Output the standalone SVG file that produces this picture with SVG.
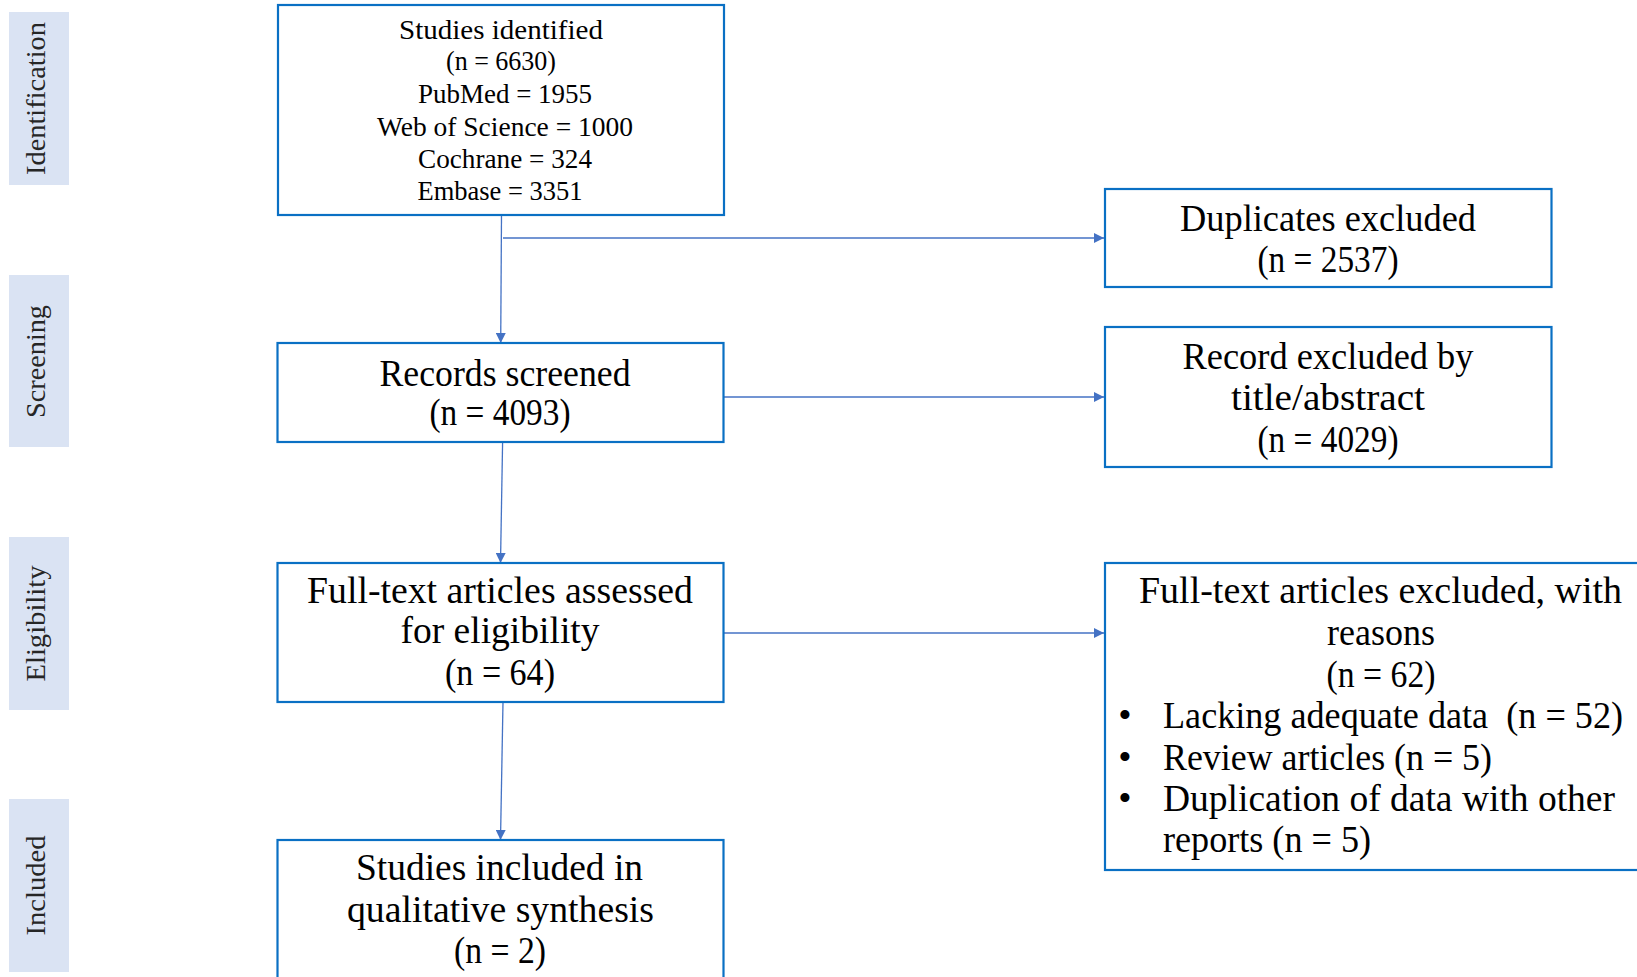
<svg xmlns="http://www.w3.org/2000/svg" width="1637" height="977" viewBox="0 0 1637 977">
<defs>
<style>
.phase{fill:#dae3f3;stroke:none}
.ptxt{font-family:"Liberation Serif","Times New Roman",serif;font-size:27px;fill:#262626;text-anchor:middle}
.box{fill:#ffffff;stroke:#0a70c4;stroke-width:2.2}
.t{font-family:"Liberation Serif","Times New Roman",serif;fill:#000000;text-anchor:middle}
.s{font-size:28px}
.l{font-size:38px}
.st{text-anchor:start}
.conn{fill:none;stroke:#4472c4;stroke-width:1.3}
</style>
<marker id="arr" viewBox="0 0 10 10" refX="10" refY="5" markerWidth="10" markerHeight="10" markerUnits="userSpaceOnUse" orient="auto">
<path d="M0,0 L10,5 L0,10 z" fill="#4472c4"/>
</marker>
</defs>
<rect width="1637" height="977" fill="#ffffff"/>

<g id="phases">
<g id="phase-identification">
<rect class="phase" x="9" y="12" width="60" height="173"/>
<text class="ptxt" transform="translate(45,98.5) rotate(-90)" textLength="153" lengthAdjust="spacingAndGlyphs">Identification</text>
</g>
<g id="phase-screening">
<rect class="phase" x="9" y="275" width="60" height="172"/>
<text class="ptxt" transform="translate(45,361.5) rotate(-90)" textLength="113" lengthAdjust="spacingAndGlyphs">Screening</text>
</g>
<g id="phase-eligibility">
<rect class="phase" x="9" y="537" width="60" height="173"/>
<text class="ptxt" transform="translate(45,623.5) rotate(-90)" textLength="116" lengthAdjust="spacingAndGlyphs">Eligibility</text>
</g>
<g id="phase-included">
<rect class="phase" x="9" y="799" width="60" height="173"/>
<text class="ptxt" transform="translate(45,885.5) rotate(-90)" textLength="100" lengthAdjust="spacingAndGlyphs">Included</text>
</g>
</g>

<g id="connectors">
<line class="conn" x1="501.5" y1="215" x2="500.7" y2="343" marker-end="url(#arr)"/>
<line class="conn" x1="503" y1="238" x2="1104" y2="238" marker-end="url(#arr)"/>
<line class="conn" x1="723.5" y1="397" x2="1104" y2="397" marker-end="url(#arr)"/>
<line class="conn" x1="502.6" y1="442" x2="500.5" y2="563" marker-end="url(#arr)"/>
<line class="conn" x1="723.5" y1="633" x2="1104" y2="633" marker-end="url(#arr)"/>
<line class="conn" x1="503" y1="702" x2="500.5" y2="840" marker-end="url(#arr)"/>
</g>

<g id="node-identified">
<rect class="box" x="278" y="5" width="446" height="210"/>
<text class="t s" x="501" y="39" textLength="204" lengthAdjust="spacingAndGlyphs">Studies identified</text>
<text class="t s" x="501" y="70" textLength="110" lengthAdjust="spacingAndGlyphs">(n = 6630)</text>
<text class="t s" x="505" y="103" textLength="174" lengthAdjust="spacingAndGlyphs">PubMed = 1955</text>
<text class="t s" x="505" y="136" textLength="256" lengthAdjust="spacingAndGlyphs">Web of Science = 1000</text>
<text class="t s" x="505" y="168" textLength="174" lengthAdjust="spacingAndGlyphs">Cochrane = 324</text>
<text class="t s" x="500" y="200" textLength="165" lengthAdjust="spacingAndGlyphs">Embase = 3351</text>
</g>

<g id="node-screened">
<rect class="box" x="277.5" y="343" width="446" height="99"/>
<text class="t l" x="505" y="386" textLength="251" lengthAdjust="spacingAndGlyphs">Records screened</text>
<text class="t l" x="500" y="425" textLength="141" lengthAdjust="spacingAndGlyphs">(n = 4093)</text>
</g>

<g id="node-fulltext">
<rect class="box" x="277.5" y="563" width="446" height="139"/>
<text class="t l" x="500" y="603" textLength="386" lengthAdjust="spacingAndGlyphs">Full-text articles assessed</text>
<text class="t l" x="500" y="643" textLength="199" lengthAdjust="spacingAndGlyphs">for eligibility</text>
<text class="t l" x="500" y="685" textLength="110" lengthAdjust="spacingAndGlyphs">(n = 64)</text>
</g>

<g id="node-included">
<rect class="box" x="277.5" y="840" width="446" height="160"/>
<text class="t l" x="499.5" y="880" textLength="287" lengthAdjust="spacingAndGlyphs">Studies included in</text>
<text class="t l" x="500.5" y="922" textLength="307" lengthAdjust="spacingAndGlyphs">qualitative synthesis</text>
<text class="t l" x="500" y="963" textLength="92" lengthAdjust="spacingAndGlyphs">(n = 2)</text>
</g>

<g id="node-duplicates">
<rect class="box" x="1105" y="189" width="446.5" height="98"/>
<text class="t l" x="1328" y="231" textLength="296" lengthAdjust="spacingAndGlyphs">Duplicates excluded</text>
<text class="t l" x="1328" y="272" textLength="141" lengthAdjust="spacingAndGlyphs">(n = 2537)</text>
</g>

<g id="node-title-abstract">
<rect class="box" x="1105" y="327" width="446.5" height="140"/>
<text class="t l" x="1328" y="369" textLength="291" lengthAdjust="spacingAndGlyphs">Record excluded by</text>
<text class="t l" x="1328" y="410" textLength="194" lengthAdjust="spacingAndGlyphs">title/abstract</text>
<text class="t l" x="1328" y="452" textLength="141" lengthAdjust="spacingAndGlyphs">(n = 4029)</text>
</g>

<g id="node-fulltext-excluded">
<rect class="box" x="1105" y="563" width="560" height="307"/>
<text class="t l" x="1380.5" y="603" textLength="483" lengthAdjust="spacingAndGlyphs">Full-text articles excluded, with</text>
<text class="t l" x="1381" y="645" textLength="108" lengthAdjust="spacingAndGlyphs">reasons</text>
<text class="t l" x="1381" y="687" textLength="109" lengthAdjust="spacingAndGlyphs">(n = 62)</text>
<text class="t l" x="1125" y="728">•</text>
<text class="t l st" x="1163" y="728" textLength="460" lengthAdjust="spacingAndGlyphs">Lacking adequate data &#160;(n = 52)</text>
<text class="t l" x="1125" y="770">•</text>
<text class="t l st" x="1163" y="770" textLength="329" lengthAdjust="spacingAndGlyphs">Review articles (n = 5)</text>
<text class="t l" x="1125" y="811">•</text>
<text class="t l st" x="1163" y="811" textLength="452" lengthAdjust="spacingAndGlyphs">Duplication of data with other</text>
<text class="t l st" x="1163" y="852" textLength="208" lengthAdjust="spacingAndGlyphs">reports (n = 5)</text>
</g>
</svg>
